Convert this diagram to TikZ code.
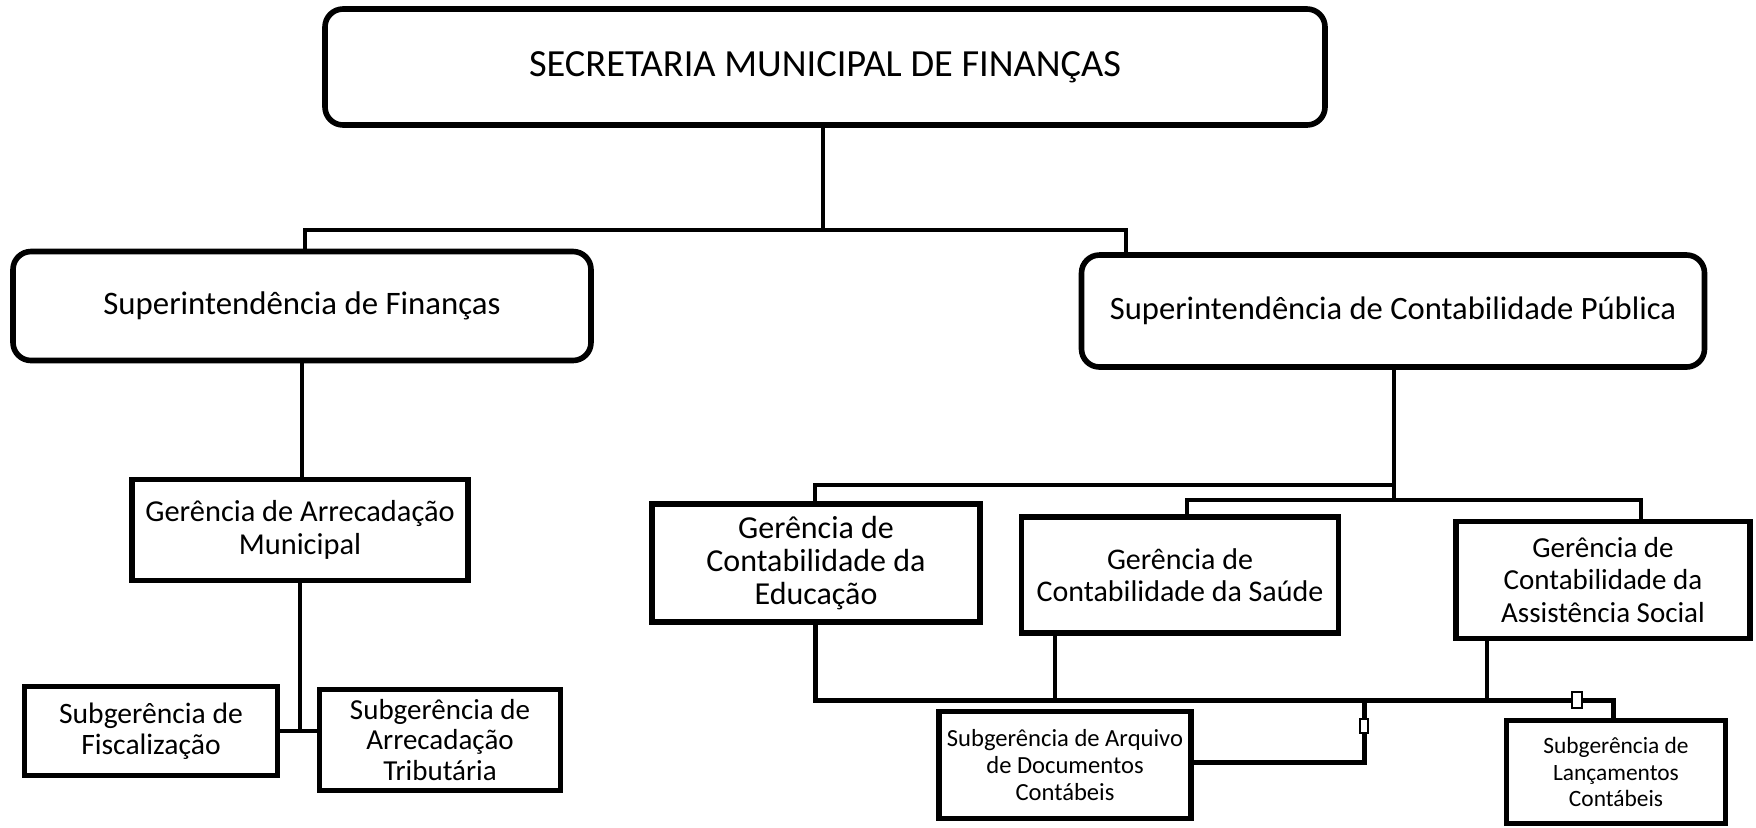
\documentclass[tikz,border=0pt]{standalone}
\usepackage{fontspec}
\setmainfont{Carlito}
\usetikzlibrary{positioning,calc}

\begin{document}
\begin{tikzpicture}[
  x=0.5pt, y=-0.5pt,
  boxsize/.style 2 args={minimum width=#1*0.5pt, minimum height=#2*0.5pt},
  topbox/.style={draw, line width=2.8pt, rounded corners=9pt, align=center, inner sep=2pt},
  unitbox/.style={draw, line width=2.8pt, align=center, inner sep=2pt},
  fsize/.style 2 args={font=\fontsize{#1pt}{#2pt}\selectfont},
  link/.style={line width=1.6pt},
  bus/.style={line width=2.5pt},
  handle/.style={draw, fill=white, line width=1pt, inner sep=0pt}
]
  \useasboundingbox (0,0) rectangle (1756,827);

  % top level
  \node[topbox, fsize={19.2}{22}, boxsize={1000}{116}] (sec) at (825,67) {SECRETARIA MUNICIPAL DE FINANÇAS};
  \node[topbox, fsize={16.4}{19}, boxsize={578}{109}] (supfin) at (302,306) {Superintendência de Finanças};
  \node[topbox, fsize={16.3}{19}, boxsize={623}{112}] (supcont) at (1393,311) {Superintendência de Contabilidade Pública};

  % left branch
  \node[unitbox, fsize={15.2}{16.5}, boxsize={336}{101}] (gerarr) at (300,530) {Gerência de Arrecadação\\Municipal};
  \node[unitbox, fsize={14.8}{15.5}, boxsize={253}{89}] (subfis) at (151,731) {\strut Subgerência de\\Fiscalização};
  \node[unitbox, fsize={14.5}{15.4}, boxsize={241}{101}] (subarr) at (440,740) {Subgerência de\\Arrecadação\\Tributária};

  % right branch
  \node[unitbox, fsize={16}{16.3}, boxsize={328}{118}] (gered) at (816,563) {Gerência de\\Contabilidade da\\Educação};
  \node[unitbox, fsize={15}{16.3}, boxsize={317}{116}] (gersau) at (1180,575) {Gerência de\\Contabilidade da Saúde};
  \node[unitbox, fsize={14.5}{16.3}, boxsize={294}{117}] (gerass) at (1603,580) {Gerência de\\Contabilidade da\\Assistência Social};
  \node[unitbox, fsize={12.3}{13.4}, boxsize={252}{107}, inner sep=1pt] (subdoc) at (1065,765) {Subgerência de Arquivo\\de Documentos\\Contábeis};
  \node[unitbox, fsize={11.7}{13.2}, boxsize={219}{103}] (sublan) at (1616,772) {Subgerência de\\Lançamentos\\Contábeis};

  % junction points
  \coordinate (top) at (823,230);
  \coordinate (rtop) at (1394,485);
  \coordinate (rmid) at (1394,500);
  \coordinate (buswest) at (815,700);
  \coordinate (buseast) at (1613,700);
  \coordinate (docdrop) at (1364,762);

  % connectors
  \draw[link] (sec.south -| top) -- (top);
  \draw[link] (supfin.north -| 305,0) |- (top) -| (supcont.north -| 1126,0);
  \draw[link] (supfin.south -| 302,0) -- (gerarr.north -| 302,0);
  \draw[link] (gerarr.south) -- (gerarr.south |- subfis.east);
  \draw[link] (subfis.east) -- (subarr.west |- subfis.east);

  \draw[link] (supcont.south -| rtop) -- (rmid);
  \draw[link] (gered.north -| buswest) |- (rtop);
  \draw[link] (gersau.north -| 1187,0) |- (rmid) -| (gerass.north -| 1641,0);

  \draw[bus] (gered.south -| buswest) -- (buswest) -- (buseast) -- (sublan.north -| buseast);
  \draw[link] (gersau.south -| 1055,0) -- (1055,700);
  \draw[link] (gerass.south -| 1487,0) -- (1487,700);
  \draw[bus] (1364,700) -- (docdrop) -- (subdoc.east |- docdrop);

  % connector handles
  \node[handle, minimum width=4pt, minimum height=7pt] (h1) at (1364,726) {};
  \node[handle, minimum width=5pt, minimum height=8pt] (h2) at (1577,700) {};
\end{tikzpicture}
\end{document}
